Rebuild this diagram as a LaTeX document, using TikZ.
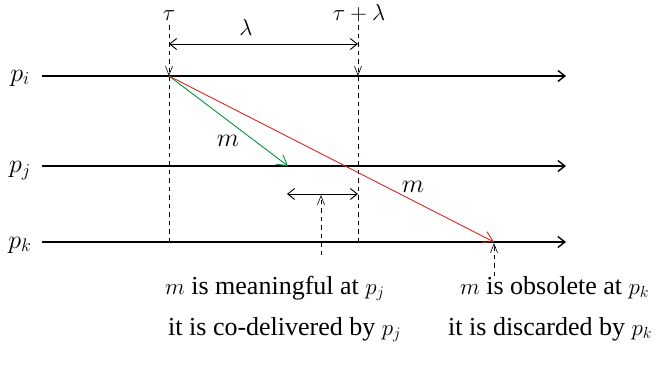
\RequirePackage{fix-cm}
\documentclass[tikz,border=0pt]{standalone}
\usepackage{fontspec}
\setmainfont{Liberation Serif}
\newfontfamily\serifx{Liberation Serif}
\usetikzlibrary{arrows.meta}
\definecolor{mgreen}{RGB}{0,150,60}
\definecolor{mred}{RGB}{215,40,30}
\newcommand{\bigtxt}{\fontsize{26}{31}\selectfont}
\newcommand{\inmath}[1]{{\fontsize{23}{27}\selectfont$#1$}}
\newcommand{\toptxt}{\fontsize{23}{27}\selectfont}
\newcommand{\proctxt}{\fontsize{26}{30}\selectfont}
\begin{document}
\begin{tikzpicture}[x=1pt,y=-1pt,
  tip/.style={-{Straight Barb[length=7pt,width=11pt]}},
  procline/.style={line width=1.4pt,tip},
  vdash/.style={dash pattern=on 4.5pt off 4pt,line width=0.6pt},
  vtip/.style={-{Straight Barb[length=9pt,width=7pt]}},
  msg/.style={line width=0.9pt,-{Straight Barb[length=10pt,width=12pt]}},
  dbl/.style={line width=0.9pt,{Straight Barb[length=7pt,width=11pt]}-{Straight Barb[length=7pt,width=11pt]}},
  lbl/.style={inner sep=0pt,font=\proctxt},
  toplbl/.style={inner sep=0pt,font=\toptxt},
  txt/.style={inner sep=0pt,font=\serifx\bigtxt,anchor=base west}]
\useasboundingbox (0,0) rectangle (663,368);
% processes
\node[lbl] (pi) at (20,78) {$p_i$};
\node[lbl] (pj) at (20,171) {$p_j$};
\node[lbl] (pk) at (20,245) {$p_k$};
\coordinate (pis) at (42,76); \coordinate (pie) at (566,76);
\coordinate (pjs) at (42,166); \coordinate (pje) at (566,166);
\coordinate (pks) at (42,242); \coordinate (pke) at (566,242);
\draw[procline] (pis) -- (pie);
\draw[procline] (pjs) -- (pje);
\draw[procline] (pks) -- (pke);
% time marks
\node[toplbl,anchor=base] (tau) at (169,20) {$\tau$};
\node[toplbl,anchor=base] (taul) at (359,20) {$\tau+\lambda$};
\coordinate (t0) at (169,25); \coordinate (t1) at (169,76); \coordinate (t2) at (169,242);
\coordinate (u0) at (358,25); \coordinate (u1) at (358,76); \coordinate (u2) at (358,242);
\draw[vdash,vtip] (t0) -- (t1);
\draw[vdash] (t1) -- (t2);
\draw[vdash,vtip] (u0) -- (u1);
\draw[vdash] (u1) -- (u2);
% lambda
\coordinate (la) at (169,44); \coordinate (lb) at (358,44);
\draw[dbl] (la) -- (lb);
\node[toplbl] (lam) at (246,28) {$\lambda$};
% messages
\coordinate (src) at (169,76);
\coordinate (dj) at (288,166);
\coordinate (dk) at (494,242);
\draw[msg,mgreen] (src) -- (dj);
\draw[msg,mred] (src) -- (dk);
\node[lbl] (m1) at (228,141) {$m$};
\node[lbl] (m2) at (413,187) {$m$};
% meaningful window
\coordinate (wa) at (287,194); \coordinate (wb) at (358,194);
\draw[dbl] (wa) -- (wb);
\coordinate (a0) at (321,255); \coordinate (a1) at (321,195);
\draw[vdash,vtip] (a0) -- (a1);
\coordinate (b0) at (494,276); \coordinate (b1) at (494,243);
\draw[vdash,vtip] (b0) -- (b1);
% texts
\node[txt] (t1a) at (165,294) {\inmath{m} is meaningful at \inmath{p_j}};
\node[txt] (t1b) at (168,335) {it is co-delivered by \inmath{p_j}};
\node[txt] (t2a) at (460,294) {\inmath{m} is obsolete at \inmath{p_k}};
\node[txt] (t2b) at (448,335) {it is discarded by \inmath{p_k}};
\end{tikzpicture}
\end{document}
